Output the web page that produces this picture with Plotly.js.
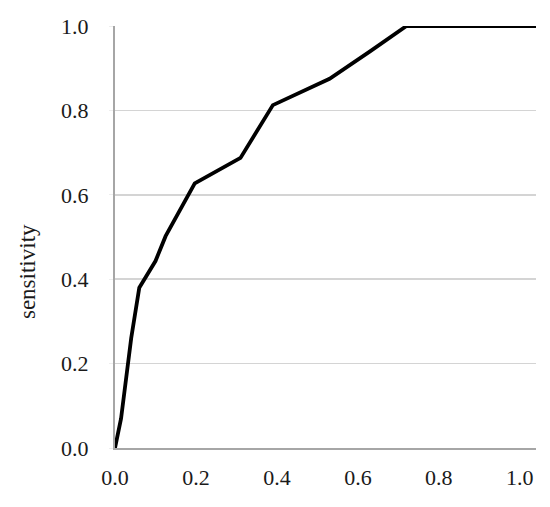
<!DOCTYPE html>
<html>
<head>
<meta charset="utf-8">
<script src="https://cdn.plot.ly/plotly-3.0.1.min.js"></script>
<style>
	html, body { margin: 0; padding: 0; background: #ffffff; }
	#plot { width: 550px; height: 507px; }
</style>
</head>
<body>
<div id="plot"></div>
<script>
// 1 - specificity vs sensitivity
const falsePositiveRate = [0, 0.015, 0.04, 0.06, 0.1, 0.125, 0.197, 0.31, 0.39, 0.53, 0.63, 0.72, 1.04];
const sensitivity = [0, 0.07, 0.26, 0.38, 0.443, 0.502, 0.627, 0.6875, 0.8125, 0.875, 0.94, 1.0, 1.0];

const tickValues = [0, 0.2, 0.4, 0.6, 0.8, 1.0];
const tickLabels = ["0.0", "0.2", "0.4", "0.6", "0.8", "1.0"];
const yTitle = "sensitivity";

const FONT = "Liberation Serif, Times New Roman, serif";

let trace = {
	x: falsePositiveRate,
	y: sensitivity,
	type: "scatter",
	mode: "lines",
	line: { color: "#000000", width: 3.8 },
	hoverinfo: "skip",
};

let layout = {
	width: 550,
	height: 507,
	margin: { l: 115, r: 14, t: 26, b: 59 },
	paper_bgcolor: "#ffffff",
	plot_bgcolor: "#ffffff",
	showlegend: false,
	font: { family: FONT, size: 22, color: "#1a1a1a" },
	xaxis: {
		range: [0, 1.04],
		tickvals: tickValues,
		ticktext: tickLabels,
		tickfont: { family: FONT, size: 22, color: "#1a1a1a" },
		showgrid: false,
		zeroline: false,
		showline: true,
		linecolor: "#a6a6a6",
		linewidth: 2,
		ticks: "",
		ticklabelstandoff: 9,
		fixedrange: true,
	},
	yaxis: {
		range: [0, 1],
		tickvals: tickValues,
		ticktext: tickLabels,
		tickfont: { family: FONT, size: 22, color: "#1a1a1a" },
		showgrid: true,
		gridcolor: "#d4d4d4",
		gridwidth: 1.6,
		zeroline: false,
		showline: true,
		linecolor: "#a6a6a6",
		linewidth: 2,
		ticks: "outside",
		ticklen: 4,
		tickcolor: "#eeeeee",
		ticklabelstandoff: 16,
		fixedrange: true,
	},
	// the axis title sits below the middle of the axis, so place it by hand
	annotations: [
		{
			text: yTitle,
			xref: "paper",
			yref: "paper",
			x: -0.209,
			y: 0.417,
			xanchor: "center",
			yanchor: "middle",
			textangle: -90,
			showarrow: false,
			font: { family: FONT, size: 23, color: "#1a1a1a" },
		},
	],
};

let config = {
	responsive: false,
	displayModeBar: false,
	staticPlot: true,
};

Plotly.newPlot("plot", [trace], layout, config);
</script>
</body>
</html>
